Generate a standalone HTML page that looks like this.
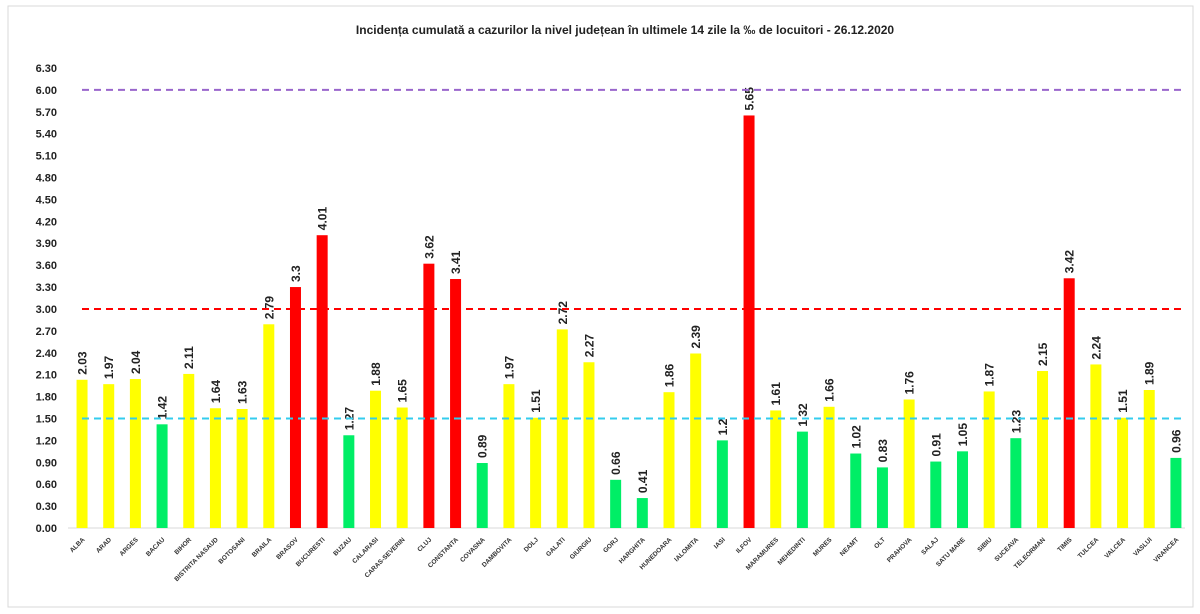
<!DOCTYPE html>
<html><head><meta charset="utf-8"><style>
body{margin:0;background:#fff;font-family:"Liberation Sans",sans-serif}
svg text{font-family:"Liberation Sans","DejaVu Sans",sans-serif}
</style></head><body>
<svg id="c" width="1200" height="609">
<rect x="8" y="6" width="1185" height="601" fill="#fff" stroke="#d9d9d9"/>
<text x="625" y="34" text-anchor="middle" font-size="12" font-weight="bold" fill="#222">Incidența cumulată a cazurilor la nivel județean în ultimele 14 zile   la ‰ de locuitori  - 26.12.2020</text>
<g id="g"></g>
</svg>
<script>
const categories=["ALBA","ARAD","ARGES","BACAU","BIHOR","BISTRITA NASAUD","BOTOSANI","BRAILA","BRASOV","BUCURESTI","BUZAU","CALARASI","CARAS-SEVERIN","CLUJ","CONSTANTA","COVASNA","DAMBOVITA","DOLJ","GALATI","GIURGIU","GORJ","HARGHITA","HUNEDOARA","IALOMITA","IASI","ILFOV","MARAMURES","MEHEDINTI","MURES","NEAMT","OLT","PRAHOVA","SALAJ","SATU MARE","SIBIU","SUCEAVA","TELEORMAN","TIMIS","TULCEA","VALCEA","VASLUI","VRANCEA"];
const values=[2.03,1.97,2.04,1.42,2.11,1.64,1.63,2.79,3.3,4.01,1.27,1.88,1.65,3.62,3.41,0.89,1.97,1.51,2.72,2.27,0.66,0.41,1.86,2.39,1.2,5.65,1.61,1.32,1.66,1.02,0.83,1.76,0.91,1.05,1.87,1.23,2.15,3.42,2.24,1.51,1.89,0.96];
const yTicks=["0.00","0.30","0.60","0.90","1.20","1.50","1.80","2.10","2.40","2.70","3.00","3.30","3.60","3.90","4.20","4.50","4.80","5.10","5.40","5.70","6.00","6.30"];
const thresholds=[1.5,3,6];
const NS="http://www.w3.org/2000/svg",g=document.getElementById('g');
const y0=528,yTop=68,yMax=6.3,xL=68.7,band=26.68;
const y=v=>y0-(v/yMax)*(y0-yTop);
const xc=i=>xL+band*(i+0.5);
function mk(t,a){const e=document.createElementNS(NS,t);for(const k in a)e.setAttribute(k,a[k]);g.appendChild(e);return e;}
let ax=mk('line',{x1:68,x2:1185,y1:y0,y2:y0,stroke:'#d9d9d9'});


yTicks.forEach(t=>{const e=mk('text',{x:57,y:y(+t)+4,'text-anchor':'end','font-size':11,'font-weight':'bold',fill:'#222'});e.textContent=t;

});
values.forEach((v,i)=>{
 const col=v>=3?'#ff0000':v>=1.5?'#ffff00':'#00ee66';
 const r=mk('rect',{x:xc(i)-5.5,y:y(v),width:11,height:y0-y(v),fill:col});
 
 
 const ly=y(v)-5,lx=xc(i)+4.5;
 const t=mk('text',{x:lx,y:ly,transform:`rotate(-90 ${lx} ${ly})`,'font-size':12,'font-weight':'bold',fill:'#222'});t.textContent=String(v);
 
 
 const cx=xc(i)+3,cy=540;
 const c=mk('text',{x:cx,y:cy,transform:`rotate(-45 ${cx} ${cy})`,'text-anchor':'end','font-size':6.5,'font-weight':'bold',fill:'#333'});c.textContent=categories[i];
 
 
});
const tc=['#33ccee','#ff0000','#9966cc'];
thresholds.forEach((v,i)=>{const l=mk('line',{x1:82,x2:1185,y1:y(v),y2:y(v),stroke:tc[i],'stroke-width':2,'stroke-dasharray':'7,5'});

});
</script>
</body></html>
